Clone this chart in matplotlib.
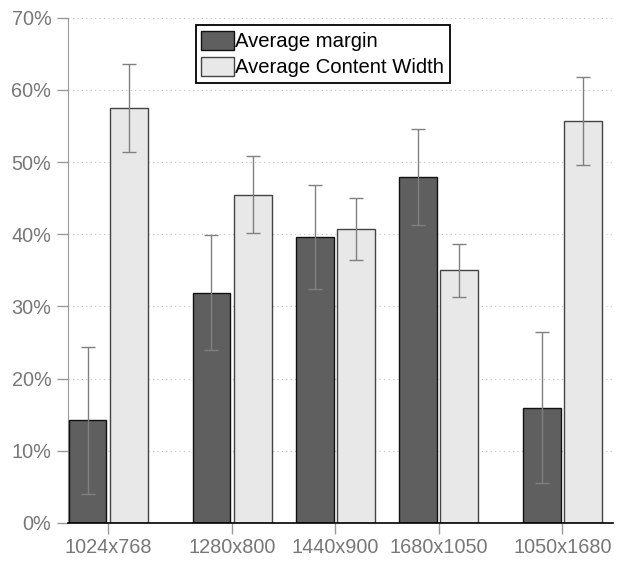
import numpy as np
import matplotlib.pyplot as plt
from matplotlib.ticker import FuncFormatter

plt.rcParams['font.family'] = ['Liberation Sans', 'DejaVu Sans']

# datos
resoluciones = ['1024x768', '1280x800', '1440x900', '1680x1050', '1050x1680']
posiciones = [0, 1.2, 2.2, 3.2, 4.4]
margen = [14.2, 31.9, 39.6, 48.0, 16.0]
margen_err = [10.25, 7.95, 7.25, 6.65, 10.5]
contenido = [57.5, 45.5, 40.7, 35.0, 55.7]
contenido_err = [6.15, 5.3, 4.3, 3.7, 6.15]

gris = '#777777'
ancho = 0.365
x = np.array(posiciones)

fig = plt.figure(figsize=(6.21, 5.61), dpi=100)
ax = fig.add_axes([68/621, 38/561, 545/621, 505.3/561])

ekw = dict(ecolor='#808080', elinewidth=1, capsize=5, capthick=1)
ax.bar(x - 0.2, margen, ancho, yerr=margen_err, color='#5f5f5f',
       edgecolor='#111111', linewidth=1, label='Average margin', error_kw=ekw, zorder=3)
ax.bar(x + 0.2, contenido, ancho, yerr=contenido_err, color='#e8e8e8',
       edgecolor='#444444', linewidth=1, label='Average Content Width', error_kw=ekw, zorder=3)

ax.set_xlim(-0.39, 4.89)
ax.set_ylim(0, 70)
ax.set_yticks(np.arange(0, 71, 10))
ax.yaxis.set_major_formatter(FuncFormatter(lambda v, p: '%d%%' % v))
ax.set_xticks(x)
ax.set_xticklabels(resoluciones)

ax.grid(axis='y', linestyle=(0, (1, 3)), color='#c0c0c0', linewidth=0.8, zorder=0)
ax.spines['top'].set_visible(False)
ax.spines['right'].set_visible(False)
ax.spines['left'].set_color('#999999')
ax.spines['bottom'].set_color('black')
ax.spines['bottom'].set_linewidth(1.2)
ax.spines['bottom'].set_zorder(4)
ax.tick_params(axis='both', colors='#999999', labelcolor=gris, labelsize=14.3, length=8, width=1)
ax.tick_params(axis='y', pad=4)
ax.tick_params(axis='x', pad=3)

leg = ax.legend(loc='upper left', bbox_to_anchor=(0.234, 0.9855), fontsize=14.6,
                frameon=True, fancybox=False, edgecolor='black', framealpha=1,
                handlelength=1.6, handleheight=1.05, handletextpad=0.08,
                borderpad=0.28, labelspacing=0.3, borderaxespad=0)
leg.get_frame().set_linewidth(1.3)

plt.savefig('out.png', dpi=100)
